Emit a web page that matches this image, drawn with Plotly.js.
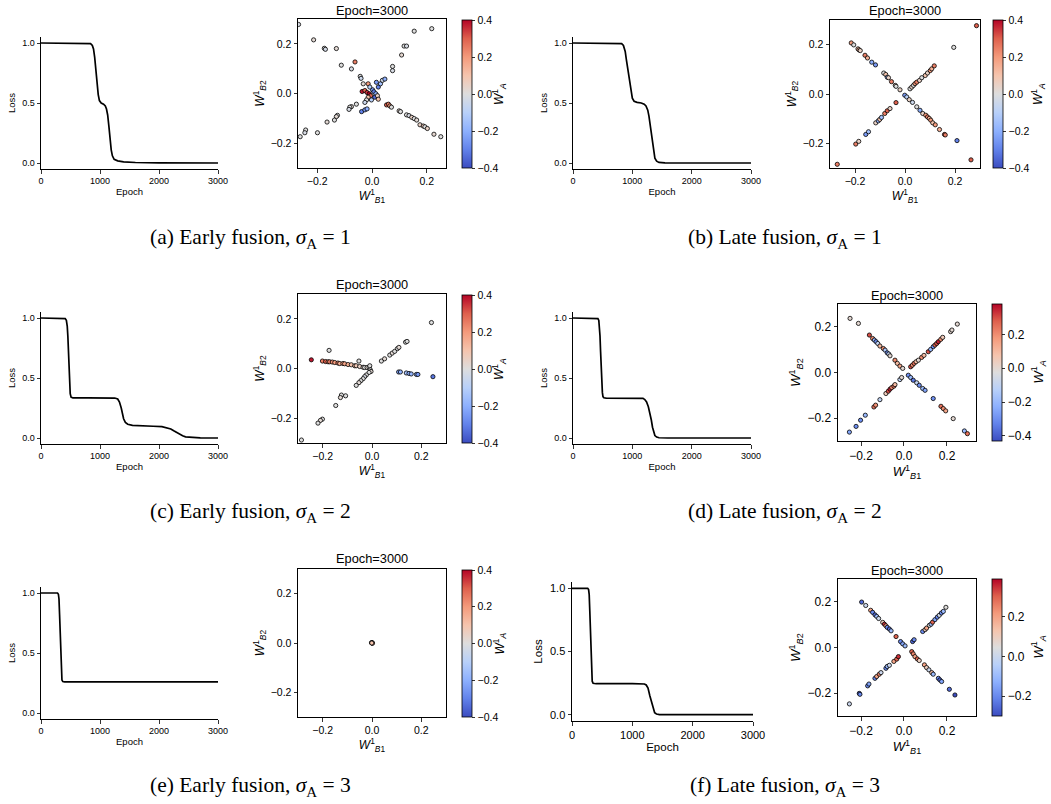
<!DOCTYPE html>
<html><head><meta charset="utf-8">
<script src="https://cdn.plot.ly/plotly-3.0.1.min.js"></script>
<style>html,body{margin:0;padding:0;background:#fff;}#chart{width:1051px;height:804px;}</style>
</head><body><div id="chart"></div>
<script>
// ---------------- DATA ----------------
// Loss curves (epoch, loss)
const epochA=[0,800,840,870,890,910,930,950,970,990,1020,1060,1090,1110,1130,1150,1170,1190,1210,1240,1300,1400,1600,2000,3000];
const lossA =[1,1,0.995,0.98,0.95,0.88,0.77,0.66,0.57,0.52,0.50,0.49,0.475,0.45,0.40,0.31,0.20,0.11,0.06,0.03,0.018,0.01,0.004,0.001,0];
const epochB=[0,780,820,850,880,900,920,940,960,980,1000,1030,1080,1150,1200,1230,1260,1280,1300,1320,1340,1360,1380,1410,1450,1550,3000];
const lossB =[1,1,0.995,0.98,0.93,0.86,0.79,0.72,0.64,0.58,0.54,0.515,0.505,0.50,0.49,0.475,0.44,0.39,0.32,0.24,0.16,0.09,0.04,0.015,0.005,0.001,0];
const epochC=[0,380,410,430,445,455,465,475,485,495,510,540,800,1100,1250,1300,1330,1360,1380,1400,1430,1470,1550,1700,1900,2050,2150,2200,2250,2300,2350,2400,2450,2550,2700,3000];
const lossC =[1,1,0.995,0.98,0.93,0.85,0.72,0.58,0.45,0.37,0.34,0.335,0.335,0.335,0.333,0.325,0.30,0.25,0.20,0.16,0.13,0.115,0.105,0.10,0.098,0.095,0.085,0.075,0.06,0.045,0.03,0.018,0.01,0.004,0.001,0];
const epochD=[0,400,420,435,445,455,465,475,485,495,505,520,560,1000,1180,1210,1240,1270,1300,1320,1340,1360,1380,1410,1450,1600,3000];
const lossD =[1,1,0.995,0.98,0.94,0.85,0.72,0.58,0.46,0.38,0.345,0.335,0.333,0.333,0.33,0.32,0.30,0.26,0.20,0.15,0.09,0.05,0.02,0.008,0.002,0,0];
const epochE=[0,280,295,305,315,325,335,345,355,370,400,3000];
const lossE =[1,1,0.99,0.95,0.82,0.64,0.46,0.33,0.275,0.262,0.259,0.259];
const epochF=[0,260,275,285,295,305,315,325,335,350,400,1000,1200,1230,1260,1290,1310,1330,1350,1370,1400,1450,1600,3000];
const lossF =[1,1,0.99,0.95,0.82,0.64,0.46,0.33,0.265,0.248,0.245,0.245,0.243,0.235,0.21,0.15,0.11,0.07,0.035,0.015,0.005,0.001,0,0];

// Scatter at Epoch=3000: W_B1 (x), W_B2 (y), W_A (colour)
const wb1A=[-0.268,-0.213,-0.174,-0.170,-0.130,-0.112,-0.075,-0.062,-0.043,-0.040,-0.032,-0.014,-0.036,-0.026,-0.018,-0.010,-0.005,-0.014,0.002,0.007,0.014,0.010,0.020,-0.002,-0.020,-0.008,0.023,0.031,0.038,0.047,0.016,0.075,0.075,0.108,0.117,0.126,0.154,0.218,0.023,0.053,0.060,0.065,0.071,0.099,0.104,0.126,0.135,0.145,0.154,0.163,0.175,0.187,0.193,0.202,0.226,0.251,-0.026,-0.038,-0.026,-0.018,-0.057,-0.075,-0.081,-0.084,-0.126,-0.130,-0.137,-0.164,-0.199,-0.242,-0.245,-0.262];
const wb2A=[0.278,0.216,0.182,0.178,0.181,0.114,0.099,0.127,0.069,0.061,0.039,0.039,0.008,0.012,0.004,-0.001,-0.009,-0.015,0.015,0.007,-0.001,-0.015,-0.009,-0.026,-0.026,0.026,0.026,0.039,0.053,0.058,0.045,0.109,0.092,0.155,0.191,0.191,0.251,0.261,-0.023,-0.046,-0.043,-0.050,-0.055,-0.070,-0.073,-0.086,-0.089,-0.096,-0.101,-0.107,-0.126,-0.131,-0.134,-0.141,-0.164,-0.174,-0.036,-0.073,-0.066,-0.062,-0.043,-0.053,-0.055,-0.064,-0.088,-0.093,-0.107,-0.115,-0.158,-0.147,-0.158,-0.174];
const waA =[-0.02,0.02,0.0,-0.03,0.02,0.0,-0.02,0.25,0.0,-0.05,0.02,0.2,0.38,0.3,0.35,0.4,0.3,0.1,-0.25,-0.3,-0.2,-0.35,0.05,-0.1,0.0,-0.1,-0.3,-0.15,-0.05,-0.2,-0.25,0.0,-0.02,0.03,0.0,-0.02,0.0,0.0,0.1,0.3,0.25,0.2,0.0,0.03,0.0,0.0,-0.02,0.05,0.0,0.02,0.05,0.08,0.0,0.05,0.03,0.0,-0.05,-0.3,-0.25,-0.2,0.0,0.02,0.0,-0.02,0.0,0.02,0.0,0.02,0.0,0.0,-0.02,0.0];

const wb1B=[-0.215,-0.205,-0.188,-0.184,-0.179,-0.160,-0.150,-0.133,-0.118,-0.085,-0.077,-0.071,-0.066,-0.054,-0.039,-0.036,-0.020,-0.001,0.007,0.017,0.030,0.047,0.060,0.071,0.083,0.090,0.097,0.103,0.111,0.121,0.138,0.158,0.161,0.264,0.208,0.195,0.286,-0.271,-0.197,-0.185,-0.157,-0.146,-0.117,-0.107,-0.101,-0.094,-0.081,-0.071,-0.060,-0.036,0.020,0.027,0.034,0.040,0.047,0.058,0.067,0.081,0.090,0.101,0.107,0.117];
const wb2B=[0.207,0.199,0.183,0.179,0.176,0.157,0.146,0.129,0.118,0.085,0.079,0.068,0.066,0.050,0.035,0.031,0.017,-0.005,-0.012,-0.023,-0.034,-0.052,-0.066,-0.079,-0.086,-0.093,-0.099,-0.106,-0.117,-0.125,-0.144,-0.164,-0.166,-0.267,-0.189,0.189,0.277,-0.285,-0.203,-0.192,-0.164,-0.153,-0.117,-0.109,-0.103,-0.095,-0.079,-0.068,-0.059,-0.035,0.021,0.028,0.035,0.042,0.048,0.055,0.066,0.075,0.085,0.095,0.102,0.114];
const waB =[0.2,0.0,0.1,0.15,0.05,0.25,0.15,-0.2,-0.25,0.0,0.1,-0.2,0.05,0.25,0.05,0.0,0.05,-0.25,-0.1,0.05,-0.05,0.0,-0.2,0.05,0.2,0.25,0.15,0.2,0.1,0.2,0.15,0.3,0.25,0.3,-0.3,0.0,0.3,0.25,0.25,0.05,-0.25,-0.15,0.05,-0.2,0.1,-0.15,0.25,0.3,0.05,0.3,0.0,0.05,0.0,0.2,0.25,0.05,0.0,0.1,0.05,0.2,0.15,0.25];

const wb1C=[-0.246,-0.201,-0.188,-0.178,-0.172,-0.161,-0.151,-0.138,-0.131,-0.118,-0.111,-0.097,-0.084,-0.070,-0.064,-0.050,-0.036,-0.030,-0.020,-0.012,-0.174,-0.053,-0.007,-0.004,-0.012,-0.023,-0.030,-0.036,-0.045,-0.053,-0.064,-0.107,-0.124,-0.128,-0.147,-0.201,-0.209,-0.219,-0.286,0.038,0.051,0.072,0.082,0.092,0.103,0.109,0.136,0.142,0.241,0.108,0.115,0.139,0.150,0.159,0.180,0.186,0.247,-0.009];
const wb2C=[0.035,0.030,0.028,0.027,0.027,0.026,0.024,0.022,0.020,0.020,0.019,0.016,0.015,0.011,0.011,0.008,0.005,0.004,0.004,0.005,0.073,0.030,-0.005,-0.012,-0.016,-0.026,-0.033,-0.041,-0.049,-0.057,-0.068,-0.110,-0.107,-0.117,-0.149,-0.204,-0.209,-0.220,-0.288,0.030,0.039,0.054,0.062,0.069,0.080,0.085,0.106,0.109,0.185,-0.014,-0.014,-0.018,-0.020,-0.022,-0.024,-0.024,-0.033,0.011];
const waC =[0.38,0.25,0.3,0.2,0.25,0.22,0.2,0.25,0.15,0.2,0.18,0.15,0.1,0.12,0.08,0.05,0.03,0.0,0.02,0.0,0.0,0.0,0.0,0.02,0.0,0.0,-0.02,0.0,0.0,0.02,0.0,0.0,0.0,0.02,0.0,0.0,0.02,0.0,0.0,0.0,0.02,0.0,0.02,0.0,0.0,0.02,0.0,0.0,0.0,-0.22,-0.2,-0.15,-0.2,-0.18,-0.2,-0.25,-0.32,0.0];

const wb1D=[-0.251,-0.212,-0.161,-0.146,-0.138,-0.130,-0.122,-0.112,-0.096,-0.088,-0.078,-0.071,-0.065,-0.042,-0.031,-0.019,-0.006,0.020,0.031,0.043,0.059,0.071,0.087,0.098,0.136,0.172,0.183,0.194,0.229,0.281,0.295,-0.254,-0.223,-0.202,-0.180,-0.140,-0.132,-0.112,-0.084,-0.073,-0.065,-0.057,-0.047,-0.042,-0.019,-0.011,0.031,0.039,0.047,0.056,0.067,0.082,0.093,0.113,0.124,0.136,0.144,0.152,0.160,0.171,0.180,0.217,0.223,0.248];
const wb2D=[0.237,0.215,0.164,0.149,0.142,0.135,0.127,0.116,0.105,0.098,0.086,0.081,0.073,0.054,0.040,0.028,0.018,-0.012,-0.022,-0.034,-0.045,-0.056,-0.070,-0.078,-0.114,-0.148,-0.158,-0.168,-0.202,-0.256,-0.268,-0.261,-0.236,-0.209,-0.187,-0.151,-0.143,-0.119,-0.092,-0.082,-0.073,-0.066,-0.060,-0.053,-0.031,-0.022,0.025,0.032,0.040,0.047,0.054,0.066,0.075,0.091,0.101,0.113,0.120,0.127,0.135,0.145,0.154,0.179,0.186,0.212];
const waD =[0.0,0.0,0.3,0.2,-0.2,-0.3,-0.1,0.1,0.2,-0.15,-0.3,-0.1,0.0,0.2,0.1,0.15,0.0,-0.3,-0.2,-0.35,-0.1,-0.3,-0.2,-0.25,-0.3,0.25,0.2,0.15,0.0,-0.2,0.25,-0.25,-0.3,-0.3,-0.2,0.25,0.2,-0.1,0.05,0.3,0.35,0.2,0.25,0.1,-0.1,0.0,0.3,0.2,0.25,0.1,0.0,0.2,0.1,0.3,-0.2,-0.3,0.25,0.3,0.35,0.2,0.05,0.0,0.0,0.0];

const wb1E=[-0.002,0.001,0.0,0.002,-0.001];
const wb2E=[0.001,0.0,0.002,-0.001,0.0];
const waE =[0.1,0.2,-0.05,0.15,0.1];

const wb1F=[-0.197,-0.178,-0.155,-0.146,-0.135,-0.127,-0.118,-0.099,-0.091,-0.084,-0.078,-0.068,-0.060,-0.037,-0.016,-0.006,0.005,0.036,0.043,0.051,0.062,0.071,0.095,0.105,0.116,0.129,0.136,0.160,0.167,0.175,0.211,0.237,-0.254,-0.208,-0.205,-0.169,-0.163,-0.135,-0.127,-0.115,-0.107,-0.084,-0.078,-0.068,-0.047,-0.034,-0.026,0.040,0.047,0.087,0.098,0.105,0.118,0.126,0.133,0.144,0.155,0.164,0.174,0.183,0.195];
const wb2F=[0.199,0.184,0.163,0.154,0.143,0.136,0.127,0.110,0.102,0.095,0.088,0.081,0.073,0.048,0.026,0.016,0.007,-0.018,-0.028,-0.040,-0.050,-0.057,-0.076,-0.088,-0.098,-0.110,-0.117,-0.135,-0.142,-0.149,-0.183,-0.208,-0.247,-0.201,-0.205,-0.168,-0.160,-0.135,-0.127,-0.117,-0.110,-0.091,-0.083,-0.078,-0.061,-0.051,-0.040,0.026,0.034,0.070,0.078,0.085,0.097,0.102,0.111,0.122,0.133,0.141,0.151,0.158,0.176];
const waF =[-0.25,0.0,0.2,-0.2,-0.25,-0.1,0.0,0.1,0.35,0.2,-0.2,-0.25,-0.1,0.3,-0.2,-0.15,-0.1,0.3,0.25,0.2,0.3,0.1,0.2,0.1,0.0,0.15,-0.1,-0.2,-0.25,-0.15,-0.25,-0.3,0.0,-0.25,-0.2,-0.2,-0.15,-0.2,0.2,0.25,0.0,-0.2,-0.1,0.0,0.2,0.3,0.35,-0.25,-0.2,-0.2,0.1,0.2,0.05,-0.1,0.3,-0.15,-0.2,0.0,-0.2,-0.1,0.05];

const captions=['(a) Early fusion, <i>σ</i><sub>A</sub> = 1','(b) Late fusion, <i>σ</i><sub>A</sub> = 1',
 '(c) Early fusion, <i>σ</i><sub>A</sub> = 2','(d) Late fusion, <i>σ</i><sub>A</sub> = 2',
 '(e) Early fusion, <i>σ</i><sub>A</sub> = 3','(f) Late fusion, <i>σ</i><sub>A</sub> = 3'];
const colorRanges=[[-0.4,0.4],[-0.4,0.4],[-0.4,0.4],[-0.43,0.38],[-0.4,0.4],[-0.30,0.39]];
const cbTicks=[[-0.4,-0.2,0,0.2,0.4],[-0.4,-0.2,0,0.2,0.4],[-0.4,-0.2,0,0.2,0.4],[-0.4,-0.2,0,0.2],[-0.4,-0.2,0,0.2,0.4],[-0.2,0,0.2]];
const lossTicks=[0,0.5,1], lossTickText=['0.0','0.5','1.0'];
const epochTicks=[0,1000,2000,3000];
const wTicks=[-0.2,0,0.2], wTickText=['\u22120.2','0.0','0.2'];

// ---------------- LAYOUT GEOMETRY (pixels) ----------------
const W=1051,H=804;
const geo=[
 {loss:[41,218,37,169], sc:[298,446,19,168], xr:[-0.27,0.27], cb:[462,20,168], cap:[250,239], ttl:10, cbt:499, fs:{lt:9,lat:9.5,st:10.5,ax:12}},
 {loss:[573,751,37,169], sc:[830,980,20,168], xr:[-0.3,0.3], cb:[993,20,168], cap:[785,239], ttl:10, cbt:1038, fs:{lt:9,lat:9.5,st:10.5,ax:12}},
 {loss:[41,218,312,444], sc:[298,446,294,443], xr:[-0.3,0.3], cb:[462,295,443], cap:[250,512], ttl:284, cbt:499, fs:{lt:9,lat:9.5,st:10.5,ax:12}},
 {loss:[573,751,312,444], sc:[838,976,304,441], xr:[-0.307,0.335], cb:[992,304,441], cap:[785,512], ttl:295, cbt:1038, fs:{lt:9,lat:9.5,st:12,ax:13}},
 {loss:[41,218,587,719], sc:[298,446,569,717], xr:[-0.3,0.3], cb:[462,570,717], cap:[250,786], ttl:558, cbt:499, fs:{lt:9,lat:9.5,st:10.5,ax:12}},
 {loss:[572,753,582,721], sc:[838,976,579,716], xr:[-0.307,0.335], cb:[992,579,716], cap:[785,786], ttl:570, cbt:1038, fs:{lt:11,lat:11.5,st:12,ax:13}}
];
const lossData=[[epochA,lossA],[epochB,lossB],[epochC,lossC],[epochD,lossD],[epochE,lossE],[epochF,lossF]];
const scData=[[wb1A,wb2A,waA],[wb1B,wb2B,waB],[wb1C,wb2C,waC],[wb1D,wb2D,waD],[wb1E,wb2E,waE],[wb1F,wb2F,waF]];

const coolwarm=[[0,'#3b4cc0'],[0.125,'#6282ea'],[0.25,'#8db0fe'],[0.375,'#b8d0f9'],[0.5,'#dddddd'],[0.625,'#f5c4ad'],[0.75,'#f49a7b'],[0.875,'#de604d'],[1,'#b40426']];
const FONT='Liberation Sans, Arial, sans-serif';
const SERIF='Liberation Serif, Times New Roman, serif';
const fx=p=>p/W, fy=p=>1-p/H;

const traces=[]; const layout={width:W,height:H,margin:{l:0,r:0,t:0,b:0},paper_bgcolor:'#fff',plot_bgcolor:'#fff',showlegend:false,font:{family:FONT,color:'#000'},annotations:[]};
function axBase(size){return {showline:true,linecolor:'#000',linewidth:1,ticks:'outside',ticklen:3.5,tickwidth:0.8,tickcolor:'#000',showgrid:false,zeroline:false,tickfont:{size:size,family:FONT,color:'#000'},fixedrange:true};}
function ann(text,x,y,o){return Object.assign({text:text,x:fx(x),y:fy(y),xref:'paper',yref:'paper',showarrow:false,xanchor:'center',yanchor:'middle'},o||{});}

geo.forEach((g,i)=>{
  const n1=2*i+1, n2=2*i+2;
  const xa1='xaxis'+n1, ya1='yaxis'+n1, xa2='xaxis'+n2, ya2='yaxis'+n2;
  // loss plot
  traces.push({type:'scatter',mode:'lines',x:lossData[i][0],y:lossData[i][1],xaxis:'x'+n1,yaxis:'y'+n1,line:{color:'#000',width:1.7},hoverinfo:'skip'});
  layout[xa1]=Object.assign(axBase(g.fs.lt),{domain:[fx(g.loss[0]),fx(g.loss[1])],anchor:'y'+n1,range:[0,3000],tickvals:epochTicks,title:{text:'Epoch',font:{size:g.fs.lat,family:FONT},standoff:3}});
  layout[ya1]=Object.assign(axBase(g.fs.lt),{domain:[fy(g.loss[3]),fy(g.loss[2])],anchor:'x'+n1,range:[-0.05,1.05],tickvals:lossTicks,ticktext:lossTickText,title:{text:'Loss',font:{size:g.fs.lat,family:FONT},standoff:4}});
  // scatter plot
  traces.push({type:'scatter',mode:'markers',x:scData[i][0],y:scData[i][1],xaxis:'x'+n2,yaxis:'y'+n2,hoverinfo:'skip',
    marker:{size:4.2,color:scData[i][2],colorscale:coolwarm,cmin:colorRanges[i][0],cmax:colorRanges[i][1],line:{color:'#000',width:0.8},
      colorbar:{x:fx(g.cb[0]),xanchor:'left',xref:'paper',y:fy(g.cb[1]),yanchor:'top',yref:'paper',len:g.cb[2]-g.cb[1],lenmode:'pixels',thickness:10,thicknessmode:'pixels',
        xpad:0,ypad:0,outlinewidth:0.8,outlinecolor:'#000',ticks:'outside',ticklen:3.5,tickwidth:0.8,tickcolor:'#000',tickvals:cbTicks[i],
        ticktext:cbTicks[i].map(v=>(v<0?'\u2212':'')+Math.abs(v).toFixed(1)),tickfont:{size:g.fs.st,family:FONT,color:'#000'}}}});
  layout[xa2]=Object.assign(axBase(g.fs.st),{domain:[fx(g.sc[0]),fx(g.sc[1])],anchor:'y'+n2,mirror:true,range:g.xr,tickvals:wTicks,ticktext:wTickText,
    title:{text:'<i>W</i><sup>1</sup><sub><i>B</i>1</sub>',font:{size:g.fs.ax,family:FONT},standoff:1}});
  layout[ya2]=Object.assign(axBase(g.fs.st),{domain:[fy(g.sc[3]),fy(g.sc[2])],anchor:'x'+n2,mirror:true,range:[-0.3,0.3],tickvals:wTicks,ticktext:wTickText,
    title:{text:'<i>W</i><sup>1</sup><sub><i>B</i>2</sub>',font:{size:g.fs.ax,family:FONT},standoff:3}});
  layout.annotations.push(ann('Epoch=3000',(g.sc[0]+g.sc[1])/2,g.ttl,{font:{size:12.8,family:FONT,color:'#000'}}));
  layout.annotations.push(ann('<i>W</i><sup>1</sup><sub><i>A</i></sub>',g.cbt,(g.cb[1]+g.cb[2])/2,{textangle:-90,font:{size:g.fs.ax,family:FONT,color:'#000'}}));
  layout.annotations.push(ann(captions[i],g.cap[0],g.cap[1],{font:{size:21.5,family:SERIF,color:'#000'}}));
});
Plotly.newPlot('chart',traces,layout,{staticPlot:true,displayModeBar:false});
</script></body></html>
